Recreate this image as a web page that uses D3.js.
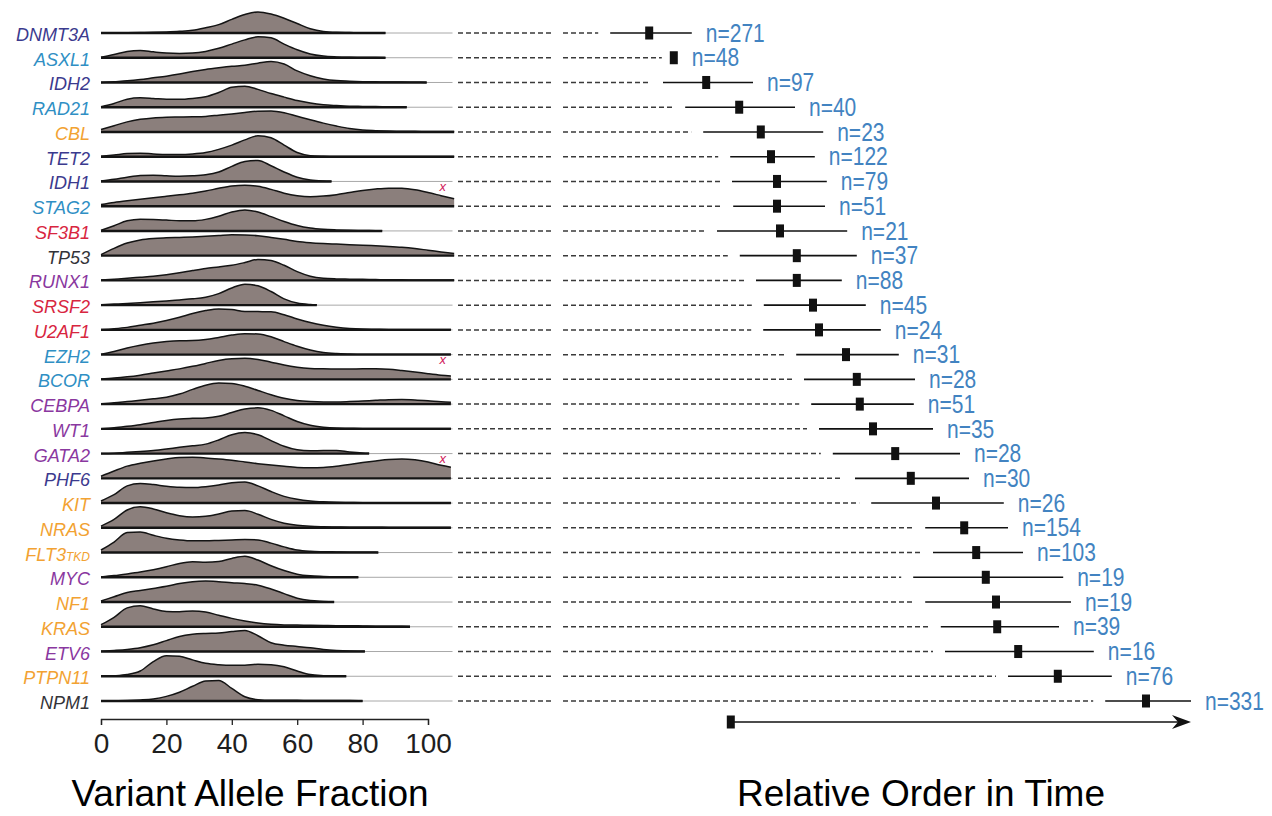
<!DOCTYPE html>
<html>
<head>
<meta charset="utf-8">
<script src="https://cdn.jsdelivr.net/npm/d3@7"></script>
<style>
  html, body { margin: 0; padding: 0; background: #fff; }
  svg { display: block; }
</style>
</head>
<body>
<svg id="chart" width="1272" height="816"></svg>
<script>
// Genes, top to bottom, in relative order of acquisition
const genes = ["DNMT3A","ASXL1","IDH2","RAD21","CBL","TET2","IDH1","STAG2","SF3B1","TP53",
  "RUNX1","SRSF2","U2AF1","EZH2","BCOR","CEBPA","WT1","GATA2","PHF6","KIT",
  "NRAS","FLT3","MYC","NF1","KRAS","ETV6","PTPN11","NPM1"];

// Functional class of each gene (drives label colour)
const geneClass = ["epigenetic","chromatin","epigenetic","chromatin","signaling","epigenetic","epigenetic","chromatin","splicing","other",
  "transcription","splicing","splicing","chromatin","chromatin","transcription","transcription","transcription","epigenetic","signaling",
  "signaling","signaling","transcription","signaling","signaling","transcription","signaling","other"];

// VAF grid (%) on which the densities are sampled
const vafGrid = [0,4,8,12,16,20,24,28,32,36,40,44,48,52,56,60,64,68,72,76,80,84,88,92,96,100,104,108];

// Relative VAF density per gene (scaled to peak = 1), sampled on vafGrid
const vafDensity = [
  [0,0,0.01,0.02,0.03,0.05,0.08,0.13,0.25,0.4,0.65,0.88,1,0.9,0.7,0.45,0.2,0.07,0.03,0.02,0.01,0.01,0,0,0,0,0,0],
  [0.02,0.15,0.3,0.35,0.28,0.22,0.2,0.22,0.3,0.45,0.65,0.85,1,0.95,0.65,0.38,0.18,0.08,0.04,0.02,0.01,0.01,0,0,0,0,0,0],
  [0,0.04,0.08,0.14,0.22,0.3,0.4,0.52,0.62,0.7,0.77,0.82,0.92,1,0.88,0.55,0.32,0.17,0.09,0.06,0.04,0.03,0.02,0.02,0.01,0,0,0],
  [0.02,0.18,0.38,0.45,0.42,0.38,0.38,0.42,0.5,0.7,0.95,1,0.85,0.65,0.48,0.32,0.2,0.12,0.08,0.05,0.04,0.03,0.02,0.01,0,0,0,0],
  [0.12,0.3,0.48,0.6,0.67,0.7,0.71,0.72,0.74,0.8,0.86,0.93,0.99,1,0.92,0.75,0.58,0.42,0.28,0.16,0.09,0.06,0.04,0.03,0.03,0.02,0.02,0.02],
  [0.02,0.08,0.15,0.17,0.13,0.1,0.1,0.13,0.2,0.35,0.55,0.8,1,0.9,0.55,0.2,0.05,0.02,0.01,0.01,0.01,0.01,0.01,0.01,0.01,0.01,0.01,0.01],
  [0.02,0.1,0.2,0.28,0.3,0.27,0.25,0.27,0.32,0.45,0.72,0.95,1,0.75,0.45,0.2,0.07,0.02,0,0,0,0,0,0,0,0,0,0],
  [0.08,0.18,0.26,0.33,0.4,0.47,0.54,0.62,0.72,0.85,0.96,1,0.95,0.8,0.62,0.5,0.45,0.48,0.55,0.65,0.75,0.82,0.86,0.85,0.78,0.65,0.5,0.35],
  [0.03,0.25,0.48,0.56,0.55,0.52,0.48,0.48,0.55,0.7,0.9,1,0.9,0.68,0.45,0.26,0.14,0.08,0.05,0.03,0.02,0.01,0,0,0,0,0,0],
  [0.05,0.35,0.6,0.75,0.82,0.85,0.87,0.89,0.92,0.96,1,0.99,0.95,0.87,0.78,0.68,0.62,0.58,0.55,0.52,0.5,0.47,0.44,0.4,0.34,0.26,0.18,0.1],
  [0.02,0.06,0.1,0.15,0.2,0.27,0.36,0.47,0.57,0.64,0.72,0.85,1,0.95,0.72,0.42,0.2,0.1,0.07,0.06,0.05,0.04,0.03,0.03,0.02,0.02,0.02,0.02],
  [0.02,0.05,0.08,0.12,0.16,0.2,0.25,0.3,0.38,0.55,0.82,1,0.92,0.65,0.3,0.1,0.03,0,0,0,0,0,0,0,0,0,0,0],
  [0.02,0.06,0.12,0.22,0.32,0.45,0.6,0.78,0.92,1,0.97,0.88,0.87,0.86,0.72,0.52,0.35,0.22,0.13,0.07,0.04,0.03,0.02,0.02,0.02,0.02,0.02,0.02],
  [0.02,0.15,0.32,0.45,0.55,0.62,0.66,0.67,0.72,0.82,0.93,1,0.98,0.85,0.62,0.4,0.22,0.1,0.05,0.03,0.02,0.02,0.02,0.02,0.02,0.02,0.02,0.02],
  [0.02,0.06,0.12,0.2,0.3,0.4,0.5,0.62,0.76,0.9,0.98,1,0.95,0.82,0.68,0.58,0.52,0.5,0.49,0.49,0.5,0.5,0.48,0.42,0.35,0.27,0.2,0.15],
  [0.02,0.06,0.12,0.18,0.25,0.33,0.48,0.7,0.9,1,0.98,0.85,0.65,0.45,0.28,0.17,0.12,0.1,0.1,0.12,0.15,0.18,0.21,0.22,0.2,0.16,0.11,0.08],
  [0.01,0.05,0.12,0.2,0.3,0.4,0.47,0.5,0.52,0.6,0.78,0.95,1,0.88,0.62,0.35,0.17,0.08,0.04,0.03,0.02,0.02,0.02,0.02,0.02,0.02,0.02,0.02],
  [0,0.02,0.06,0.1,0.15,0.22,0.3,0.37,0.45,0.65,0.9,1,0.9,0.62,0.35,0.18,0.13,0.15,0.15,0.08,0.03,0,0,0,0,0,0,0],
  [0.1,0.35,0.58,0.72,0.83,0.92,0.99,1,0.97,0.92,0.86,0.78,0.7,0.63,0.57,0.52,0.5,0.52,0.58,0.66,0.75,0.83,0.9,0.92,0.88,0.78,0.62,0.5],
  [0.1,0.4,0.82,0.93,0.88,0.8,0.75,0.74,0.78,0.86,0.97,1,0.82,0.55,0.32,0.18,0.1,0.06,0.04,0.03,0.02,0.02,0.02,0.02,0.02,0.02,0.02,0.02],
  [0.08,0.4,0.85,1,0.9,0.72,0.58,0.52,0.55,0.66,0.8,0.82,0.65,0.4,0.22,0.12,0.07,0.05,0.04,0.03,0.03,0.03,0.02,0.02,0.02,0.02,0.02,0.02],
  [0.12,0.5,0.95,0.98,0.82,0.68,0.6,0.56,0.56,0.58,0.6,0.62,0.6,0.45,0.27,0.12,0.06,0.04,0.03,0.02,0.02,0.01,0,0,0,0,0,0],
  [0.02,0.08,0.16,0.25,0.36,0.5,0.66,0.74,0.72,0.75,0.9,1,0.82,0.55,0.32,0.15,0.07,0.04,0.02,0.01,0,0,0,0,0,0,0,0],
  [0.05,0.25,0.45,0.55,0.65,0.75,0.88,0.97,1,0.97,0.92,0.88,0.8,0.62,0.4,0.18,0.07,0.03,0,0,0,0,0,0,0,0,0,0],
  [0.1,0.45,0.9,1,0.85,0.73,0.72,0.75,0.7,0.55,0.4,0.28,0.18,0.12,0.09,0.08,0.07,0.06,0.05,0.05,0.04,0.03,0.03,0.02,0,0,0,0],
  [0.01,0.05,0.1,0.18,0.32,0.52,0.72,0.82,0.86,0.88,0.95,1,0.75,0.42,0.3,0.24,0.18,0.1,0.05,0.02,0.01,0,0,0,0,0,0,0],
  [0,0.02,0.08,0.25,0.7,0.98,0.95,0.78,0.62,0.55,0.52,0.53,0.57,0.55,0.45,0.25,0.08,0.03,0.01,0,0,0,0,0,0,0,0,0],
  [0,0.01,0.02,0.05,0.1,0.22,0.42,0.7,0.95,0.98,0.6,0.2,0.06,0.03,0.03,0.03,0.02,0.02,0.02,0.02,0,0,0,0,0,0,0,0]
];

// Highest observed VAF (%) for each gene
const vafTail = [87,87,99.6,93.5,108,108,70.5,108,86,108,
  108,66,107,107,107,107,107,82,107,107,
  107,84.8,78.7,71.3,94.5,80.7,75,80];

// Relative order in time: estimate with lower / upper interval
const orderMid  = [8.2,12.3,17.7,23.2,26.8,28.5,29.5,29.5,30.0,32.8,
  32.8,35.5,36.5,41.0,42.8,43.3,45.5,49.2,51.8,56.0,
  60.7,62.7,64.3,66.0,66.2,69.7,76.3,91.0];
const orderLow  = [1.7,12.3,10.5,14.2,17.2,21.7,22.0,22.2,19.5,23.3,
  26.0,27.3,27.2,32.7,34.0,35.2,36.5,38.8,42.5,45.2,
  54.2,55.5,52.2,54.2,56.8,57.5,68.0,84.2];
const orderHigh = [15.3,12.3,25.5,32.5,37.2,35.8,37.8,37.5,41.2,42.8,
  40.3,44.3,46.8,49.8,52.5,52.3,55.5,60.0,61.5,67.3,
  68.0,70.5,77.2,78.5,76.5,82.3,85.3,98.5];

// Number of patients carrying each mutation
const sampleCounts = [271,48,97,40,23,122,79,51,21,37,
  88,45,24,31,28,51,35,28,30,26,
  154,103,19,19,39,16,76,331];

// Genes whose density is truncated at the right edge
const flaggedGenes = ["STAG2","BCOR","PHF6"];

const vafTicks = [0,20,40,60,80,100];
const timeArrow = [21.8, 98.5];

// ---------------------------------------------------------------------------
const svg = d3.select("#chart");

const rowY   = d3.scalePoint().domain(genes).range([33, 701]);
const vafX   = d3.scaleLinear().domain([0, 100]).range([101, 428]);
const densH  = d3.scaleLinear().domain([0, 1]).range([0, 21]);
const timeX  = d3.scaleLinear().domain([0, 100]).range([600, 1200]);
const classColor = d3.scaleOrdinal()
  .domain(["epigenetic","chromatin","splicing","transcription","signaling","other"])
  .range(["#3b3a8e","#2f8fc4","#d8263f","#8a389f","#f2a232","#333338"]);

const labelFont = "'Liberation Sans', Arial, sans-serif";

// --- VAF ridgelines --------------------------------------------------------
const ridges = svg.append("g").attr("class", "ridges");

genes.forEach((gene, i) => {
  const y0 = rowY(gene);
  const tail = vafTail[i];
  const dens = vafDensity[i];
  const pts = vafGrid.map((v, j) => [v, dens[j]]).filter(p => p[0] < tail);
  const k = vafGrid.findIndex(v => v >= tail);
  const t = (tail - vafGrid[k - 1]) / (vafGrid[k] - vafGrid[k - 1]);
  pts.push([tail, d3.interpolateNumber(dens[k - 1], dens[k])(t)]);

  const row = ridges.append("g");

  // faint rule continuing to the panel edge
  row.append("line")
    .attr("x1", vafX(tail)).attr("x2", vafX(107.5))
    .attr("y1", y0).attr("y2", y0)
    .attr("stroke", "#a8a8a8").attr("stroke-width", 1);

  const area = d3.area()
    .x(d => vafX(d[0]))
    .y0(y0)
    .y1(d => y0 - densH(d[1]))
    .curve(d3.curveMonotoneX);
  const top = d3.line()
    .x(d => vafX(d[0]))
    .y(d => y0 - densH(d[1]))
    .curve(d3.curveMonotoneX);

  row.append("path").attr("d", area(pts)).attr("fill", "#8b7f7c");
  row.append("path").attr("d", top(pts))
    .attr("fill", "none").attr("stroke", "#141414").attr("stroke-width", 1.5);
  row.append("line")
    .attr("x1", vafX(0)).attr("x2", vafX(tail))
    .attr("y1", y0).attr("y2", y0)
    .attr("stroke", "#141414").attr("stroke-width", 2.4);

  // gene name
  const label = svg.append("text")
    .attr("x", 90).attr("y", y0 + 8)
    .attr("text-anchor", "end")
    .attr("font-family", labelFont)
    .attr("font-style", "italic")
    .attr("font-size", 18)
    .attr("fill", classColor(geneClass[i]));
  if (gene === "FLT3") {
    label.append("tspan").text("FLT3");
    label.append("tspan").attr("font-size", 12).text("TKD");
  } else {
    label.text(gene);
  }

  if (flaggedGenes.includes(gene)) {
    svg.append("text")
      .attr("x", vafX(104.5)).attr("y", y0 - 15)
      .attr("text-anchor", "middle")
      .attr("font-family", labelFont)
      .attr("font-style", "italic")
      .attr("font-size", 13)
      .attr("fill", "#d0205a")
      .text("x");
  }
});

// --- VAF axis --------------------------------------------------------------
svg.append("g")
  .attr("transform", "translate(0,719)")
  .call(d3.axisBottom(vafX).tickValues(vafTicks).tickSize(6).tickSizeOuter(6).tickPadding(8))
  .call(g => g.select(".domain").attr("stroke", "#222").attr("stroke-width", 1.3))
  .call(g => g.selectAll(".tick line").attr("stroke", "#222").attr("stroke-width", 1.3))
  .call(g => g.selectAll(".tick text")
    .attr("font-size", 28).attr("font-family", labelFont).attr("fill", "#1e1e1e"));

// --- Relative order panel --------------------------------------------------
const order = svg.append("g").attr("class", "order");

genes.forEach((gene, i) => {
  const y = rowY(gene);
  const lo = timeX(orderLow[i]);
  const mid = timeX(orderMid[i]);
  const hi = timeX(orderHigh[i]);

  // dashed guide from the ridge towards the estimate
  [[458, 553], [563, lo - 12]].forEach(([a, b]) => {
    order.append("line")
      .attr("x1", a).attr("x2", b).attr("y1", y).attr("y2", y)
      .attr("stroke", "#3a3a3a").attr("stroke-width", 1.5)
      .attr("stroke-dasharray", "5,3");
  });

  order.append("line")
    .attr("x1", lo).attr("x2", hi).attr("y1", y).attr("y2", y)
    .attr("stroke", "#111").attr("stroke-width", 1.6);

  order.append("rect")
    .attr("x", mid - 4).attr("y", y - 6.5)
    .attr("width", 8).attr("height", 13)
    .attr("fill", "#111");

  // count label, horizontally condensed
  order.append("text")
    .attr("transform", `translate(${Math.max(hi, mid + 4) + 14},${y}) scale(0.84,1)`)
    .attr("dominant-baseline", "central")
    .attr("font-family", labelFont)
    .attr("font-size", 25)
    .attr("fill", "#4283c1")
    .text("n=" + sampleCounts[i]);
});

// time arrow
const arrowY = 722;
const ax0 = timeX(timeArrow[0]);
const ax1 = timeX(timeArrow[1]);
order.append("line")
  .attr("x1", ax0).attr("x2", ax1 - 10).attr("y1", arrowY).attr("y2", arrowY)
  .attr("stroke", "#111").attr("stroke-width", 1.6);
order.append("path")
  .attr("d", `M${ax1},${arrowY} L${ax1 - 19},${arrowY - 7} L${ax1 - 13},${arrowY} L${ax1 - 19},${arrowY + 7} Z`)
  .attr("fill", "#111");
order.append("rect")
  .attr("x", ax0 - 4).attr("y", arrowY - 6.5)
  .attr("width", 8).attr("height", 13)
  .attr("fill", "#111");

// --- Panel titles ----------------------------------------------------------
svg.append("text")
  .attr("x", 250).attr("y", 806)
  .attr("text-anchor", "middle")
  .attr("font-family", labelFont)
  .attr("font-size", 37)
  .attr("fill", "#000")
  .text("Variant Allele Fraction");

svg.append("text")
  .attr("x", 921).attr("y", 806)
  .attr("text-anchor", "middle")
  .attr("font-family", labelFont)
  .attr("font-size", 37)
  .attr("fill", "#000")
  .text("Relative Order in Time");
</script>
</body>
</html>
